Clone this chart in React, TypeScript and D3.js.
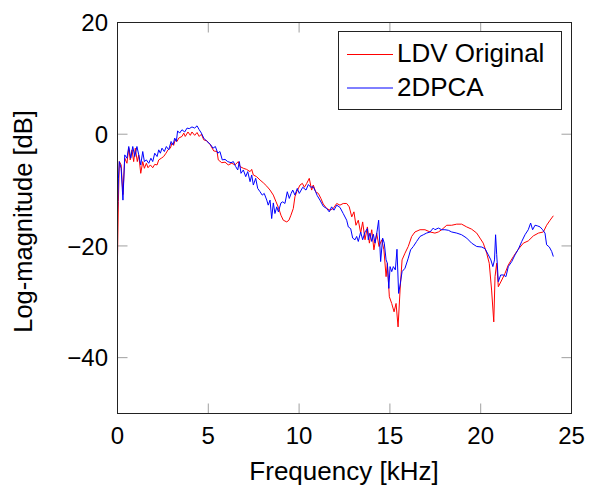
import React from "react";
import * as d3 from "d3";

const ldvX = [0, 0.05, 0.1, 0.2, 0.3, 0.4, 0.52, 0.62, 0.7, 0.8, 0.89, 0.98, 1.09, 1.17, 1.28, 1.39, 1.48, 1.59, 1.68, 1.81, 1.94, 2.05, 2.18, 2.27, 2.41, 2.54, 2.67, 2.78, 2.91, 3.0, 3.09, 3.18, 3.28, 3.37, 3.55, 3.65, 3.73, 3.88, 4.01, 4.1, 4.25, 4.38, 4.5, 4.62, 4.75, 4.93, 5.11, 5.3, 5.48, 5.55, 5.74, 5.92, 6.1, 6.29, 6.47, 6.65, 6.75, 6.93, 7.11, 7.3, 7.39, 7.48, 7.66, 7.85, 8.03, 8.22, 8.4, 8.58, 8.73, 8.86, 9.0, 9.13, 9.32, 9.44, 9.55, 9.68, 9.77, 9.87, 10.05, 10.18, 10.29, 10.42, 10.56, 10.69, 10.78, 10.91, 11.06, 11.2, 11.33, 11.52, 11.7, 11.88, 12.07, 12.25, 12.43, 12.62, 12.76, 12.9, 13.02, 13.13, 13.26, 13.39, 13.5, 13.63, 13.76, 13.87, 14.0, 14.12, 14.27, 14.4, 14.55, 14.67, 14.79, 14.86, 14.97, 15.1, 15.23, 15.34, 15.45, 15.56, 15.67, 15.83, 16.01, 16.2, 16.38, 16.66, 16.93, 17.21, 17.48, 17.67, 17.85, 18.13, 18.4, 18.68, 18.95, 19.23, 19.5, 19.78, 19.96, 20.14, 20.33, 20.47, 20.6, 20.72, 20.79, 20.88, 20.97, 21.16, 21.34, 21.52, 21.8, 22.07, 22.35, 22.62, 22.9, 23.18, 23.45, 23.63, 23.82, 24.0];
const ldvY = [-22, -12, -4.9, -5.5, -10.8, -4.3, -5.2, -2.5, -4.6, -2.8, -4.9, -2.5, -4.9, -3.7, -7.0, -4.9, -6.1, -5.2, -6.0, -5.5, -6.0, -5.4, -5.5, -4.6, -4.3, -4.0, -3.4, -2.8, -2.5, -1.6, -2.0, -1.0, -1.3, -0.7, -0.4, 0.2, -0.4, 0.4, -0.2, 0.4, -0.2, 0.3, -0.4, 0.0, -1.0, -1.2, -1.9, -3.0, -3.1, -4.6, -5.1, -5.0, -5.5, -5.2, -5.5, -4.9, -5.8, -6.1, -6.3, -6.7, -6.3, -7.3, -7.6, -8.2, -8.7, -9.3, -10.0, -10.9, -12.1, -13.1, -14.5, -15.4, -15.7, -15.4, -14.5, -13.3, -11.2, -10.3, -9.1, -8.8, -9.5, -8.8, -7.9, -10.0, -9.1, -10.3, -10.6, -11.5, -12.5, -13.3, -13.6, -13.3, -12.4, -12.7, -12.4, -12.4, -13.0, -14.8, -13.9, -16.3, -15.4, -17.7, -15.7, -18.9, -16.6, -19.5, -17.1, -20.7, -17.7, -20.1, -18.9, -20.7, -25.5, -23.1, -29.1, -30.3, -31.8, -30.3, -34.5, -27.9, -22.5, -21.3, -20.1, -18.3, -17.5, -17.1, -17.1, -17.5, -17.7, -17.5, -17.1, -16.3, -16.3, -16.1, -16.1, -16.6, -17.0, -17.7, -18.6, -19.5, -21.3, -23.1, -27.9, -33.6, -25.5, -23.1, -27.3, -26.1, -24.9, -23.4, -21.9, -20.6, -19.5, -19.1, -18.2, -17.7, -17.5, -16.3, -15.4, -14.6];

const pcaX = [0, 0.05, 0.1, 0.2, 0.3, 0.4, 0.52, 0.62, 0.73, 0.84, 0.95, 1.07, 1.17, 1.28, 1.39, 1.48, 1.59, 1.72, 1.84, 1.94, 2.05, 2.18, 2.27, 2.36, 2.45, 2.58, 2.69, 2.82, 2.95, 3.06, 3.15, 3.24, 3.31, 3.42, 3.55, 3.7, 3.83, 3.95, 4.1, 4.25, 4.38, 4.5, 4.62, 4.75, 4.93, 5.11, 5.26, 5.39, 5.52, 5.64, 5.77, 5.92, 6.07, 6.25, 6.38, 6.51, 6.62, 6.71, 6.8, 6.93, 7.06, 7.17, 7.3, 7.39, 7.48, 7.61, 7.72, 7.85, 7.97, 8.08, 8.22, 8.3, 8.4, 8.49, 8.58, 8.67, 8.77, 8.86, 9.0, 9.1, 9.22, 9.35, 9.46, 9.56, 9.65, 9.77, 9.9, 10.01, 10.2, 10.38, 10.51, 10.64, 10.78, 10.91, 11.0, 11.15, 11.33, 11.52, 11.66, 11.79, 11.92, 12.07, 12.25, 12.43, 12.62, 12.71, 12.84, 12.95, 13.08, 13.17, 13.26, 13.39, 13.5, 13.63, 13.76, 13.81, 13.9, 14.0, 14.09, 14.18, 14.27, 14.38, 14.49, 14.6, 14.69, 14.79, 14.86, 14.94, 15.01, 15.1, 15.19, 15.3, 15.39, 15.48, 15.56, 15.67, 15.83, 16.01, 16.14, 16.29, 16.47, 16.66, 16.84, 17.02, 17.21, 17.39, 17.48, 17.67, 17.85, 18.03, 18.22, 18.4, 18.68, 18.95, 19.23, 19.5, 19.78, 20.06, 20.24, 20.42, 20.56, 20.67, 20.76, 20.82, 20.88, 20.97, 21.1, 21.25, 21.39, 21.52, 21.71, 21.89, 22.07, 22.26, 22.44, 22.62, 22.75, 22.86, 22.99, 23.12, 23.27, 23.41, 23.54, 23.63, 23.78, 23.91, 24.0];
const pcaY = [-14, -8, -4.9, -6.1, -11.8, -3.7, -4.3, -2.2, -4.3, -2.2, -4.0, -2.2, -3.7, -5.5, -3.1, -4.9, -4.6, -5.2, -4.3, -4.9, -3.4, -4.0, -2.8, -3.4, -2.5, -3.1, -2.2, -2.8, -1.3, -1.9, -0.7, -1.3, 0.6, 0.2, 0.8, 0.4, 1.1, 1.0, 1.3, 1.1, 1.5, 0.8, 0.2, -0.7, -1.3, -1.8, -2.5, -2.2, -3.4, -3.1, -4.6, -4.5, -4.9, -5.1, -4.9, -5.8, -6.4, -4.9, -7.0, -6.4, -7.6, -6.7, -8.5, -7.3, -9.1, -7.9, -9.7, -10.3, -10.9, -10.6, -11.8, -12.7, -11.8, -15.1, -12.3, -14.2, -13.0, -13.9, -12.3, -12.1, -12.4, -10.3, -11.5, -10.6, -10.0, -10.9, -9.7, -10.6, -9.5, -10.0, -9.0, -9.5, -9.4, -10.3, -11.0, -11.8, -12.9, -13.3, -13.9, -13.0, -13.6, -12.7, -13.1, -14.2, -15.4, -16.6, -16.9, -18.6, -18.9, -18.3, -19.2, -17.5, -18.9, -17.5, -16.9, -18.9, -17.7, -19.2, -17.9, -19.5, -17.9, -15.4, -22.8, -18.6, -19.5, -22.5, -23.1, -27.6, -23.7, -24.6, -23.7, -24.3, -20.6, -28.5, -27.0, -24.6, -24.0, -22.2, -20.7, -20.1, -19.2, -18.3, -18.0, -17.7, -17.5, -16.8, -17.1, -16.8, -17.1, -17.1, -17.2, -17.5, -17.7, -18.0, -18.6, -19.5, -20.1, -20.2, -20.5, -21.6, -22.5, -23.7, -22.5, -18.0, -21.5, -26.4, -25.2, -25.2, -25.5, -23.7, -22.8, -21.6, -20.6, -19.2, -18.0, -17.1, -15.9, -17.1, -16.3, -16.4, -16.6, -17.1, -17.7, -19.8, -20.2, -21.0, -21.9];

const xTicks = [0, 5, 10, 15, 20, 25];
const yTicks = [20, 0, -20, -40];
const seriesNames = ["LDV Original", "2DPCA"];
const seriesColors = ["#ff0000", "#0000ff"];

const W = 590;
const H = 493;
const L = 117.5, R = 571.5, T = 22.5, B = 413.5;
const FONT = "'Liberation Sans', Arial, Helvetica, sans-serif";

export default function App() {
  const x = d3.scaleLinear().domain([0, 25]).range([L, R]);
  const y = d3.scaleLinear().domain([-50, 20]).range([B, T]);
  const line = d3
    .line<[number, number]>()
    .x((d) => x(d[0]))
    .y((d) => y(d[1]));
  const series = [
    ldvX.map((v, i) => [v, ldvY[i]] as [number, number]),
    pcaX.map((v, i) => [v, pcaY[i]] as [number, number]),
  ];
  const tickLen = 10;
  const fmt = (v: number) => (v < 0 ? "\u2212" + Math.abs(v) : String(v));
  const legX = 338.5, legY = 31.5, legW = 223, legH = 78;
  return (
    <svg
      width={W}
      height={H}
      style={{ position: "absolute", left: 0, top: 0 }}
      fontFamily={FONT}
    >
      <rect x={0} y={0} width={W} height={H} fill="#fff" />
      {xTicks.map((t) => (
        <g key={"xt" + t} stroke="#888" strokeWidth={0.8}>
          <line x1={x(t)} x2={x(t)} y1={B} y2={B - tickLen} />
          <line x1={x(t)} x2={x(t)} y1={T} y2={T + tickLen} />
        </g>
      ))}
      {yTicks.map((t) => (
        <g key={"yt" + t} stroke="#888" strokeWidth={0.8}>
          <line x1={L} x2={L + tickLen} y1={y(t)} y2={y(t)} />
          <line x1={R} x2={R - tickLen} y1={y(t)} y2={y(t)} />
        </g>
      ))}
      {series.map((s, i) => (
        <path
          key={"s" + i}
          d={line(s) || ""}
          fill="none"
          stroke={seriesColors[i]}
          strokeWidth={1}
          strokeLinejoin="round"
        />
      ))}
      <rect
        x={L}
        y={T}
        width={R - L}
        height={B - T}
        fill="none"
        stroke="#222"
        strokeWidth={1}
      />
      {xTicks.map((t) => (
        <text
          key={"xl" + t}
          x={x(t)}
          y={443.5}
          textAnchor="middle"
          fontSize={24}
          fill="#000"
        >
          {fmt(t)}
        </text>
      ))}
      {yTicks.map((t) => (
        <text
          key={"yl" + t}
          x={108}
          y={y(t) + 8.6}
          textAnchor="end"
          fontSize={24}
          fill="#000"
        >
          {fmt(t)}
        </text>
      ))}
      <text x={344} y={479.5} textAnchor="middle" fontSize={26} fill="#000">
        Frequency [kHz]
      </text>
      <text
        transform={`translate(32,221.5) rotate(-90)`}
        textAnchor="middle"
        fontSize={25.5}
        fill="#000"
      >
        Log-magnitude [dB]
      </text>
      <rect
        x={legX}
        y={legY}
        width={legW}
        height={legH}
        fill="#fff"
        stroke="#222"
        strokeWidth={1}
      />
      {seriesNames.map((n, i) => (
        <g key={"lg" + i}>
          <line
            x1={347}
            x2={393}
            y1={54.5 + i * 33.5}
            y2={54.5 + i * 33.5}
            stroke={seriesColors[i]}
            strokeWidth={1}
          />
          <text x={397} y={62 + i * 34} fontSize={26} fill="#000">
            {n}
          </text>
        </g>
      ))}
    </svg>
  );
}
